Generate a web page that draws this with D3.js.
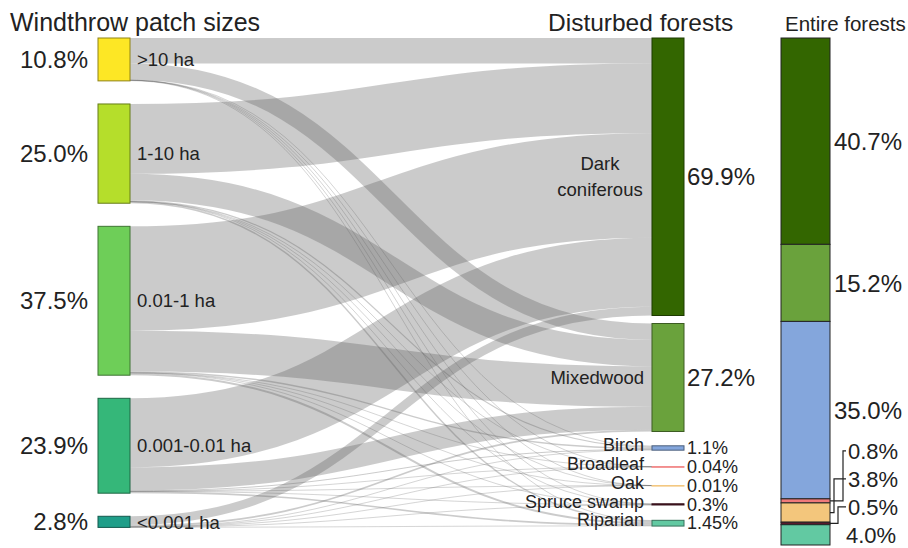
<!DOCTYPE html>
<html>
<head>
<meta charset="utf-8">
<script src="https://cdn.jsdelivr.net/npm/d3@7"></script>
<style>
  body { margin: 0; background: #fff; }
  text { font-family: "Liberation Sans", Arial, sans-serif; fill: #222; }
</style>
</head>
<body>
<svg id="chart" width="908" height="548"></svg>
<script>
// Windthrow patch size classes (share of disturbed area, %)
const patchSizes  = [">10 ha", "1-10 ha", "0.01-1 ha", "0.001-0.01 ha", "<0.001 ha"];
const patchShares = [10.8, 25.0, 37.5, 23.9, 2.8];
const patchColors = ["#fde725", "#b5de2b", "#6ece58", "#35b779", "#1f9e89"];

// Forest types
const forestTypes     = ["Dark coniferous", "Mixedwood", "Birch", "Broadleaf", "Oak", "Spruce swamp", "Riparian"];
const disturbedShares = [69.9, 27.2, 1.1, 0.04, 0.01, 0.3, 1.45];
const entireShares    = [40.7, 15.2, 35.0, 0.8, 3.8, 0.5, 4.0];
const forestColors    = ["#336600", "#6aa23c", "#84a6dc", "#f07a7a", "#f3c67c", "#5a1a2c", "#62c9a2"];

// Flows from each patch size class into each forest type (% of disturbed area),
// listed in patch size order
const toDarkConiferous = [6.4, 17.6, 26.3, 17.4, 2.2];
const toMixedwood      = [4.094, 6.657, 10.232, 5.77, 0.447];
const toBirch          = [0.15, 0.3, 0.35, 0.25, 0.05];
const toBroadleaf      = [0.005, 0.01, 0.015, 0.008, 0.002];
const toOak            = [0.001, 0.003, 0.003, 0.002, 0.001];
const toSpruceSwamp    = [0.03, 0.08, 0.1, 0.07, 0.02];
const toRiparian       = [0.12, 0.35, 0.5, 0.4, 0.08];
const flowsByForest = [toDarkConiferous, toMixedwood, toBirch, toBroadleaf, toOak, toSpruceSwamp, toRiparian];

const fmtPct = d => (d >= 1 && d % 1 === 0 ? d.toFixed(1) : String(d)) + "%";
const fmtBig = d => d.toFixed(1) + "%";

const svg = d3.select("#chart");

// ---- layout ----
const topY = 38;
const nodeW = 32;
const leftX = 98, midX = 652;
const leftGap = 23.1, midGap = 8;
const smallStep = 18.8, smallOffset = 16.5;

const h = d3.scaleLinear().domain([0, 100]).range([0, 397]);

// Left column nodes
let y = topY;
const leftNodes = patchSizes.map((name, i) => {
  const n = { name, value: patchShares[i], color: patchColors[i], x0: leftX, x1: leftX + nodeW, y0: y, y1: y + h(patchShares[i]) };
  y = n.y1 + leftGap;
  return n;
});

// Middle column nodes: the two large types stacked, the small types spread out for their labels
y = topY;
let bigBottom = topY;
const midNodes = forestTypes.map((name, i) => {
  const hh = h(disturbedShares[i]);
  const n = { name, value: disturbedShares[i], color: forestColors[i], x0: midX, x1: midX + nodeW };
  if (i < 2) {
    n.y0 = y; n.y1 = y + hh; y = n.y1 + midGap; bigBottom = n.y1;
  } else {
    const c = bigBottom + smallOffset + (i - 2) * smallStep;
    n.y0 = c - hh / 2; n.y1 = c + hh / 2;
  }
  return n;
});

// Links
const links = [];
flowsByForest.forEach((arr, t) => arr.forEach((v, s) => links.push({ source: leftNodes[s], target: midNodes[t], value: v, s, t })));
// stack at source ordered by target, at target ordered by source
leftNodes.forEach((n, s) => {
  let off = n.y0;
  links.filter(l => l.s === s).sort((a, b) => a.t - b.t).forEach(l => { l.w = h(l.value); l.sy = off + l.w / 2; off += l.w; });
});
midNodes.forEach((n, t) => {
  let off = n.y0;
  links.filter(l => l.t === t).sort((a, b) => a.s - b.s).forEach(l => { l.ty = off + l.w / 2; off += l.w; });
});

const linkGen = d3.linkHorizontal();
svg.append("g")
  .attr("fill", "none")
  .attr("stroke", "#5c5c5c")
  .attr("stroke-opacity", 0.32)
  .selectAll("path")
  .data(links)
  .join("path")
  .attr("d", l => linkGen({ source: [l.source.x1, l.sy], target: [l.target.x0, l.ty] }))
  .attr("stroke-width", l => Math.max(l.w, 0.8));

// Nodes
function drawNodes(nodes) {
  svg.append("g").selectAll("rect")
    .data(nodes)
    .join("rect")
    .attr("x", d => d.x0)
    .attr("y", d => d.y0)
    .attr("width", d => d.x1 - d.x0)
    .attr("height", d => Math.max(d.y1 - d.y0, 0.5))
    .attr("fill", d => d.color)
    .attr("stroke", d => (d.y1 - d.y0) < 1 ? d.color : d3.rgb(d.color).darker(1.6))
    .attr("stroke-width", 1);
}
drawNodes(leftNodes);
drawNodes(midNodes);

// Titles
svg.append("text").attr("x", 10).attr("y", 31).attr("font-size", 25).text("Windthrow patch sizes");
svg.append("text").attr("x", 548).attr("y", 31).attr("font-size", 24.5).text("Disturbed forests");
svg.append("text").attr("x", 785).attr("y", 31).attr("font-size", 20.5).text("Entire forests");

// Left labels
const cy = d => (d.y0 + d.y1) / 2;
svg.append("g").selectAll("text").data(leftNodes).join("text")
  .attr("x", leftX - 10).attr("y", d => cy(d)).attr("dy", "0.36em")
  .attr("text-anchor", "end").attr("font-size", 24)
  .text(d => fmtBig(d.value));
svg.append("g").selectAll("text").data(leftNodes).join("text")
  .attr("x", leftX + nodeW + 7).attr("y", d => cy(d)).attr("dy", "0.36em")
  .attr("font-size", 18.5)
  .text(d => d.name);

// Middle labels
const bigMid = midNodes.slice(0, 2), smallMid = midNodes.slice(2);
svg.append("g").selectAll("text").data(bigMid).join("text")
  .attr("x", midX + nodeW + 3).attr("y", d => cy(d)).attr("dy", "0.36em")
  .attr("font-size", 24)
  .text(d => fmtBig(d.value));
const dc = midNodes[0];
const dcLabel = svg.append("text").attr("x", midX - 52).attr("y", cy(dc)).attr("text-anchor", "middle").attr("font-size", 18.5);
dcLabel.append("tspan").attr("x", midX - 52).attr("dy", "-0.34em").text("Dark");
dcLabel.append("tspan").attr("x", midX - 52).attr("dy", "1.36em").text("coniferous");
svg.append("text").attr("x", midX - 8).attr("y", cy(midNodes[1])).attr("dy", "0.36em")
  .attr("text-anchor", "end").attr("font-size", 18.5).text("Mixedwood");

svg.append("g").selectAll("text").data(smallMid).join("text")
  .attr("x", midX - 8).attr("y", d => cy(d) - 3).attr("dy", "0.34em")
  .attr("text-anchor", "end").attr("font-size", 18)
  .text(d => d.name);
svg.append("g").selectAll("text").data(smallMid).join("text")
  .attr("x", midX + nodeW + 3).attr("y", d => cy(d)).attr("dy", "0.34em")
  .attr("font-size", 18)
  .text(d => fmtPct(d.value));

// Entire forests: stacked bar
const barX = 781, barW = 49;
const by = d3.scaleLinear().domain([0, 100]).range([topY, 545]);
let acc = 0;
const segs = entireShares.map((v, i) => { const s = { v, color: forestColors[i], y0: by(acc), y1: by(acc + v) }; acc += v; return s; });
svg.append("g").selectAll("rect").data(segs).join("rect")
  .attr("x", barX).attr("y", d => d.y0).attr("width", barW).attr("height", d => d.y1 - d.y0)
  .attr("fill", d => d.color).attr("stroke", "#222").attr("stroke-width", 1);

// Labels: large segments beside their centre, small segments stacked with leader lines
const labelX = barX + barW + 4;
const bigSeg = [0, 1, 2];
svg.append("g").selectAll("text").data(bigSeg).join("text")
  .attr("x", labelX).attr("y", i => (segs[i].y0 + segs[i].y1) / 2).attr("dy", "0.36em")
  .attr("font-size", 24).text(i => fmtBig(segs[i].v));

const last = segs.length - 1;
const lastY = (segs[last].y0 + segs[last].y1) / 2;
svg.append("text").attr("x", labelX + 12).attr("y", lastY).attr("dy", "0.36em")
  .attr("font-size", 22).text(fmtBig(segs[last].v));

const leaderIdx = [3, 4, 5];
const labelStep = 28;
const leaderXs = [843, 834, 838];
leaderIdx.forEach((i, k) => {
  const ly = lastY - (leaderIdx.length - k) * labelStep;
  const sy = (segs[i].y0 + segs[i].y1) / 2;
  const lx = leaderXs[k];
  svg.append("path")
    .attr("d", d3.line()([[barX + barW, sy], [lx, sy], [lx, ly], [labelX + 12, ly]]))
    .attr("fill", "none").attr("stroke", "#222").attr("stroke-width", 1.2);
  svg.append("text").attr("x", labelX + 14).attr("y", ly).attr("dy", "0.36em")
    .attr("font-size", 22).text(fmtBig(segs[i].v));
});
</script>
</body>
</html>
